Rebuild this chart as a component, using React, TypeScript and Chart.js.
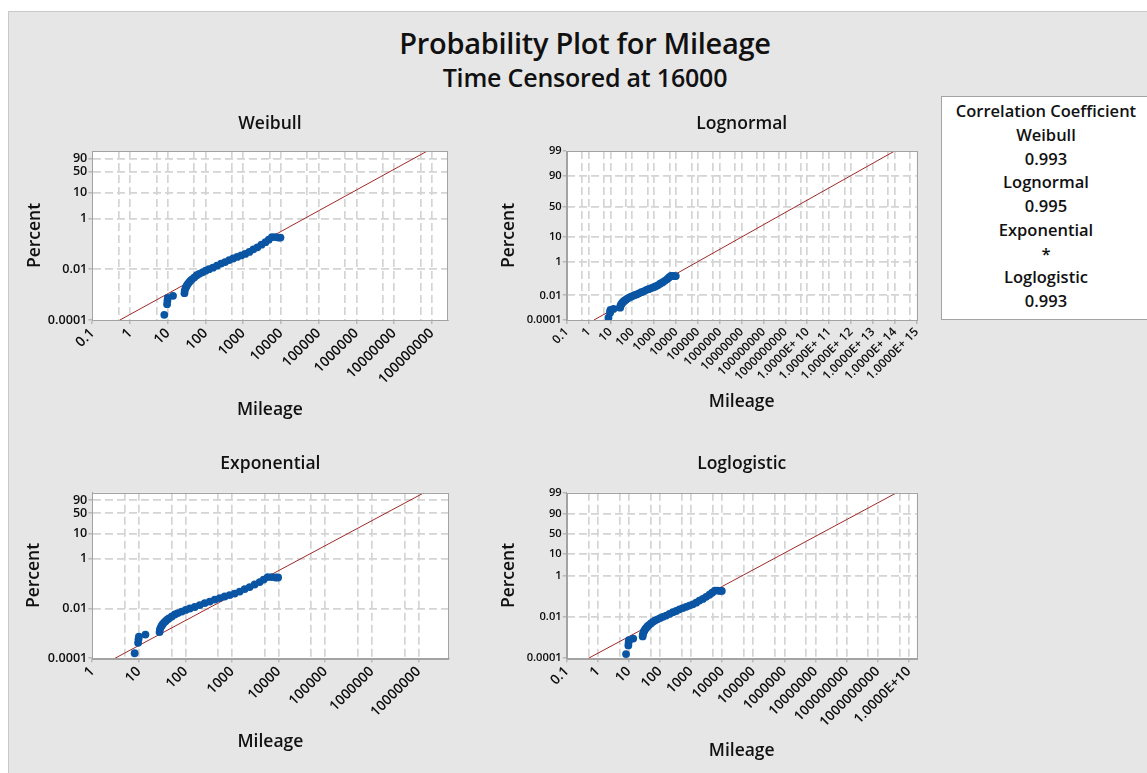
import React, { useEffect, useRef } from 'react';
import { Chart, registerables } from 'chart.js';

Chart.register(...registerables);

// ---------- data ----------
const mileage = [
  8.1, 9.6, 9.8, 10.0, 13.8, 27.7, 28.2, 29.6, 31, 32.7, 35, 37.8, 40.5, 43.9,
  50.9, 59, 68.4, 83.3, 101, 124, 158, 202, 259, 331, 424, 542, 693, 887,
  1136, 1455, 1862, 2382, 3048, 3900, 4750, 5780, 7050, 8590, 9710,
];
const percent = [
  0.00016, 0.00042, 0.00058, 0.00075, 0.0009, 0.00114, 0.00144, 0.00181, 0.0021,
  0.0024, 0.0028, 0.0032, 0.0036, 0.004, 0.0048, 0.0058, 0.0066, 0.0076, 0.0088,
  0.0101, 0.0116, 0.0139, 0.0167, 0.0192, 0.0231, 0.0266, 0.0306, 0.0351,
  0.0403, 0.0485, 0.061, 0.0736, 0.093, 0.117, 0.147, 0.186, 0.186, 0.178, 0.178,
];

// fitted distribution lines (end points)
const weibullFitMileage = [0.54, 7.6e7];
const weibullFitPercent = [0.0001, 99];
const lognormalFitMileage = [1.77, 9.8e13];
const lognormalFitPercent = [0.0001, 99];
const exponentialFitMileage = [3.06, 1.32e7];
const exponentialFitPercent = [0.0001, 99];
const loglogisticFitMileage = [0.5, 4.1e9];
const loglogisticFitPercent = [0.0001, 99];

// tick labels
const weibullXLabels = ['0.1', '1', '10', '100', '1000', '10000', '100000', '1000000', '10000000', '100000000'];
const lognormalXLabels = [
  '0.1', '1', '10', '100', '1000', '10000', '100000', '1000000', '10000000', '100000000',
  '1000000000', '1.0000E+ 10', '1.0000E+ 11', '1.0000E+ 12', '1.0000E+ 13', '1.0000E+ 14', '1.0000E+ 15',
];
const exponentialXLabels = ['1', '10', '100', '1000', '10000', '100000', '1000000', '10000000'];
const loglogisticXLabels = [
  '0.1', '1', '10', '100', '1000', '10000', '100000', '1000000', '10000000', '100000000',
  '1000000000', '1.0000E+10',
];
const weibullYLabels = ['0.0001', '0.01', '1', '10', '50', '90'];
const lognormalYLabels = ['0.0001', '0.01', '1', '10', '50', '90', '99'];
const exponentialYLabels = ['0.0001', '0.01', '1', '10', '50', '90'];
const loglogisticYLabels = ['0.0001', '0.01', '1', '10', '50', '90', '99'];

// axis ranges
const yMinPercent = 0.0001;
const yMaxPercent = 99;
const weibullXRange = [0.1, 2.6e8];
const lognormalXRange = [0.1, 1e15];
const exponentialXRange = [1, 4.4e7];
const loglogisticXRange = [0.1, 1.8e10];

const corrNames = ['Weibull', 'Lognormal', 'Exponential', 'Loglogistic'];
const corrValues = ['0.993', '0.995', '*', '0.993'];

// ---------- probability-scale transforms ----------
function normInv(p: number): number {
  const a = [-3.969683028665376e1, 2.209460984245205e2, -2.759285104469687e2, 1.38357751867269e2, -3.066479806614716e1, 2.506628277459239];
  const b = [-5.447609879822406e1, 1.615858368580409e2, -1.556989798598866e2, 6.680131188771972e1, -1.328068155288572e1];
  const c = [-7.784894002430293e-3, -3.223964580411365e-1, -2.400758277161838, -2.549671348730254, 4.374664141464968, 2.938163982698783];
  const d = [7.784695709041462e-3, 3.224671290700398e-1, 2.445134137142996, 3.754408661907416];
  const pl = 0.02425;
  if (p < pl) {
    const q = Math.sqrt(-2 * Math.log(p));
    return (((((c[0] * q + c[1]) * q + c[2]) * q + c[3]) * q + c[4]) * q + c[5]) / ((((d[0] * q + d[1]) * q + d[2]) * q + d[3]) * q + 1);
  }
  if (p <= 1 - pl) {
    const q = p - 0.5;
    const r = q * q;
    return ((((((a[0] * r + a[1]) * r + a[2]) * r + a[3]) * r + a[4]) * r + a[5]) * q) / (((((b[0] * r + b[1]) * r + b[2]) * r + b[3]) * r + b[4]) * r + 1);
  }
  const q = Math.sqrt(-2 * Math.log(1 - p));
  return -(((((c[0] * q + c[1]) * q + c[2]) * q + c[3]) * q + c[4]) * q + c[5]) / ((((d[0] * q + d[1]) * q + d[2]) * q + d[3]) * q + 1);
}
const transforms: Record<string, (pct: number) => number> = {
  weibull: (pct) => Math.log(-Math.log(1 - pct / 100)),
  normal: (pct) => normInv(pct / 100),
  logistic: (pct) => {
    const q = pct / 100;
    return Math.log(q / (1 - q));
  },
};

// ---------- layout (page pixels) ----------
type Geo = { L: number; R: number; T: number; B: number; titleY: number; yTitleX: number; xTitleY: number };

const panels = [
  {
    title: 'Weibull', transform: 'weibull', xLabels: weibullXLabels, xRange: weibullXRange, yLabels: weibullYLabels,
    fitX: weibullFitMileage, fitP: weibullFitPercent, xFont: 14, yFont: 12.6,
    geo: { L: 92.3, R: 447.5, T: 151, B: 320, titleY: 124, yTitleX: 35, xTitleY: 410 } as Geo,
  },
  {
    title: 'Lognormal', transform: 'normal', xLabels: lognormalXLabels, xRange: lognormalXRange, yLabels: lognormalYLabels,
    fitX: lognormalFitMileage, fitP: lognormalFitPercent, xFont: 12, yFont: 11.2,
    geo: { L: 566.7, R: 916.7, T: 151, B: 320, titleY: 124, yTitleX: 509, xTitleY: 402 } as Geo,
  },
  {
    title: 'Exponential', transform: 'weibull', xLabels: exponentialXLabels, xRange: exponentialXRange, yLabels: exponentialYLabels,
    fitX: exponentialFitMileage, fitP: exponentialFitPercent, xFont: 14, yFont: 12.6,
    geo: { L: 92.3, R: 448.5, T: 492.7, B: 658.3, titleY: 464, yTitleX: 34, xTitleY: 742 } as Geo,
  },
  {
    title: 'Loglogistic', transform: 'logistic', xLabels: loglogisticXLabels, xRange: loglogisticXRange, yLabels: loglogisticYLabels,
    fitX: loglogisticFitMileage, fitP: loglogisticFitPercent, xFont: 13.7, yFont: 11.2,
    geo: { L: 566.7, R: 916.7, T: 492.7, B: 658.3, titleY: 464, yTitleX: 509, xTitleY: 751 } as Geo,
  },
];

const FONT = "'Open Sans', 'Noto Sans', sans-serif";
const TITLE_SIZE = 17.5;
const LH = TITLE_SIZE * 1.2;
const GRID = '#d4d4d4';
const AXIS = '#a3a3a3';
const TICK_TEXT = '#0d0d0d';

const framePlugin = {
  id: 'frameBox',
  beforeDraw(chart: any) {
    const { ctx, chartArea: a } = chart;
    ctx.save();
    ctx.fillStyle = '#ffffff';
    ctx.fillRect(a.left, a.top, a.right - a.left, a.bottom - a.top);
    ctx.restore();
  },
  afterDraw(chart: any) {
    const { ctx, chartArea: a } = chart;
    ctx.save();
    ctx.strokeStyle = AXIS;
    ctx.lineWidth = 1;
    ctx.strokeRect(Math.round(a.left) + 0.5, Math.round(a.top) + 0.5, Math.round(a.right - a.left), Math.round(a.bottom - a.top));
    ctx.restore();
  },
};

function Panel({ cfg }: { cfg: (typeof panels)[number] }) {
  const ref = useRef<HTMLCanvasElement>(null);
  const g = cfg.geo;
  const cl = Math.floor(g.yTitleX - LH / 2) - 2;
  const ct = Math.floor(g.titleY - LH / 2) - 2;
  const cb = Math.ceil(g.xTitleY + LH / 2) + 2;
  const cr = Math.ceil(g.R) + 22;
  const width = cr - cl;
  const height = cb - ct;

  useEffect(() => {
    if (!ref.current) return;
    const T = transforms[cfg.transform];
    const yTicks = cfg.yLabels.map((s) => ({ value: T(parseFloat(s)), label: s }));
    const [xMin, xMax] = cfg.xRange;
    const xTicks: { value: number; label: string; major: boolean }[] = [];
    cfg.xLabels.forEach((s) => {
      const v = parseFloat(s.replace(/\s/g, ''));
      const half = v / 2;
      if (half > xMin * 1.0001) xTicks.push({ value: half, label: '', major: false });
      xTicks.push({ value: v, label: s, major: true });
    });
    const lastHalf = parseFloat(cfg.xLabels[cfg.xLabels.length - 1].replace(/\s/g, '')) * 5;
    if (lastHalf < xMax) xTicks.push({ value: lastHalf, label: '', major: false });

    const yMin = T(yMinPercent);
    const yMax = T(yMaxPercent);
    const edge = (v: number, lo: number, hi: number) => Math.abs(v - lo) < 1e-9 * Math.max(1, Math.abs(lo)) || Math.abs(v - hi) < 1e-9 * Math.max(1, Math.abs(hi));

    const chart = new Chart(ref.current, {
      type: 'scatter',
      data: {
        datasets: [
          {
            data: mileage.map((m, i) => ({ x: m, y: T(percent[i]) })),
            pointRadius: 3.9,
            pointHoverRadius: 3.9,
            pointBackgroundColor: '#0a55a3',
            pointBorderWidth: 0,
            showLine: false,
            order: 1,
          },
          {
            data: cfg.fitX.map((m, i) => ({ x: m, y: T(cfg.fitP[i]) })),
            showLine: true,
            borderColor: '#a02a28',
            borderWidth: 1,
            pointRadius: 0,
            order: 2,
          },
        ],
      },
      options: {
        responsive: false,
        animation: false,
        events: [],
        layout: { padding: { left: 0, top: 0, bottom: 0, right: cr - g.R } },
        plugins: {
          legend: { display: false },
          tooltip: { enabled: false },
          title: {
            display: true,
            text: cfg.title,
            fullSize: false,
            color: '#111',
            font: { family: FONT, size: TITLE_SIZE, weight: '600', lineHeight: 1.2 },
            padding: { top: g.titleY - LH / 2 - ct, bottom: g.T - g.titleY - LH / 2 },
          },
        },
        scales: {
          x: {
            type: 'logarithmic',
            min: xMin,
            max: xMax,
            afterBuildTicks: (scale: any) => {
              scale.ticks = xTicks.map((t) => ({ value: t.value }));
            },
            afterFit: (scale: any) => {
              scale.height = cb - g.B;
            },
            ticks: {
              autoSkip: false,
              minRotation: 45,
              maxRotation: 45,
              padding: 1,
              color: TICK_TEXT,
              font: { family: FONT, size: cfg.xFont, weight: '600' },
              callback: (_v: any, i: number) => (xTicks[i] ? xTicks[i].label : ''),
            },
            grid: {
              lineWidth: 1.7,
              color: (ctx: any) => (ctx.tick && edge(ctx.tick.value, xMin, xMax) ? 'rgba(0,0,0,0)' : GRID),
              tickLength: 4,
              tickWidth: 1,
              tickColor: (ctx: any) => {
                const t = xTicks[ctx.index];
                return t && t.major ? AXIS : 'rgba(0,0,0,0)';
              },
              tickBorderDash: [],
            },
            border: { display: true, color: AXIS, width: 1, dash: [8, 4] },
            title: {
              display: true,
              text: 'Mileage',
              color: '#111',
              font: { family: FONT, size: TITLE_SIZE, weight: '600', lineHeight: 1.2 },
              padding: { top: 0, bottom: cb - (g.xTitleY + LH / 2) },
            },
          },
          y: {
            type: 'linear',
            min: yMin,
            max: yMax,
            afterBuildTicks: (scale: any) => {
              scale.ticks = yTicks.map((t) => ({ value: t.value }));
            },
            afterFit: (scale: any) => {
              scale.width = g.L - cl;
            },
            ticks: {
              autoSkip: false,
              padding: 1,
              color: TICK_TEXT,
              font: { family: FONT, size: cfg.yFont, weight: '600' },
              callback: (_v: any, i: number) => (yTicks[i] ? yTicks[i].label : ''),
            },
            grid: {
              lineWidth: 1.7,
              color: (ctx: any) => (ctx.tick && edge(ctx.tick.value, yMin, yMax) ? 'rgba(0,0,0,0)' : GRID),
              tickLength: 4,
              tickWidth: 1,
              tickColor: AXIS,
              tickBorderDash: [],
            },
            border: { display: true, color: AXIS, width: 1, dash: [8, 4] },
            title: {
              display: true,
              text: 'Percent',
              color: '#111',
              font: { family: FONT, size: TITLE_SIZE, weight: '600', lineHeight: 1.2 },
              padding: { top: g.yTitleX - LH / 2 - cl, bottom: 0 },
            },
          },
        },
      } as any,
      plugins: [framePlugin],
    });
    return () => chart.destroy();
  }, []);

  return (
    <canvas
      ref={ref}
      width={width}
      height={height}
      style={{ position: 'absolute', left: cl, top: ct, width, height }}
    />
  );
}

export default function App() {
  const lineH = 23.75;
  return (
    <div style={{ position: 'absolute', left: 0, top: 0, width: 1147, height: 773, overflow: 'hidden', background: '#ffffff', fontFamily: FONT }}>
      <div style={{ position: 'absolute', left: 8, top: 11, width: 1160, height: 780, background: '#e6e6e6', borderLeft: '1px solid #c9c9c9', borderTop: '1px solid #c9c9c9' }} />
      <div style={{ position: 'absolute', left: 0, width: 1170, top: 24, height: 38, lineHeight: '38px', textAlign: 'center', fontSize: 29, fontWeight: 600, color: '#111', letterSpacing: -0.3 }}>
        Probability Plot for Mileage
      </div>
      <div style={{ position: 'absolute', left: 0, width: 1170, top: 61, height: 32, lineHeight: '32px', textAlign: 'center', fontSize: 25, fontWeight: 600, color: '#111', letterSpacing: -0.2 }}>
        Time Censored at 16000
      </div>
      {panels.map((p) => (
        <Panel key={p.title} cfg={p} />
      ))}
      <div style={{ position: 'absolute', left: 941, top: 96, width: 212, height: 224, background: '#ffffff', border: '1px solid #a3a3a3', boxSizing: 'border-box' }}>
        <div style={{ position: 'absolute', left: 0, width: 208, top: 2, textAlign: 'center', fontSize: 16.5, fontWeight: 600, color: '#111', lineHeight: `${lineH}px` }}>
          <div>Correlation Coefficient</div>
          {corrNames.map((n, i) => (
            <React.Fragment key={n}>
              <div>{n}</div>
              <div>{corrValues[i]}</div>
            </React.Fragment>
          ))}
        </div>
      </div>
    </div>
  );
}
